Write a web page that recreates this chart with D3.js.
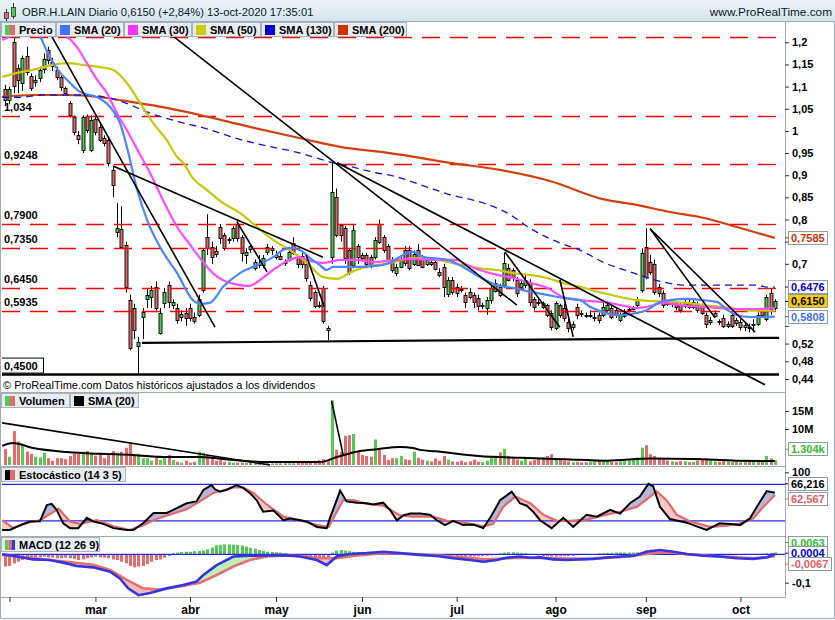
<!DOCTYPE html>
<html><head><meta charset="utf-8">
<script src="https://cdn.jsdelivr.net/npm/d3@7"></script>
<style>
html,body{margin:0;padding:0;background:#fff;}
svg{display:block;font-family:"Liberation Sans",Arial,Helvetica,sans-serif;}
</style></head><body>
<svg id="chart" width="835" height="620"></svg>
<script>
// ---------------- DATA ----------------
const openP = [1.095,1.070,1.200,1.142,1.108,1.170,1.125,1.110,1.120,1.140,
1.183,1.155,1.138,1.122,1.097,1.063,1.032,0.990,0.957,1.034,
0.957,1.027,1.009,0.985,0.980,0.912,0.770,0.779,0.743,0.618,
0.600,0.515,0.580,0.620,0.625,0.648,0.545,0.612,0.652,0.607,
0.600,0.580,0.590,0.600,0.580,0.584,0.641,0.760,0.738,0.730,
0.783,0.765,0.752,0.758,0.790,0.760,0.720,0.740,0.690,0.700,
0.697,0.725,0.735,0.715,0.718,0.705,0.710,0.748,0.716,0.718,
0.700,0.653,0.636,0.608,0.645,0.555,0.715,0.850,0.787,0.780,
0.731,0.698,0.740,0.720,0.720,0.716,0.715,0.790,0.760,0.740,
0.709,0.680,0.693,0.731,0.731,0.700,0.731,0.716,0.700,0.705,
0.705,0.682,0.693,0.632,0.664,0.648,0.643,0.630,0.637,0.630,
0.623,0.605,0.600,0.618,0.640,0.648,0.652,0.690,0.686,0.664,
0.648,0.652,0.657,0.620,0.614,0.612,0.607,0.589,0.555,0.607,
0.600,0.569,0.557,0.603,0.590,0.585,0.584,0.580,0.584,0.584,
0.596,0.600,0.596,0.573,0.584,0.596,0.600,0.607,0.641,0.737,
0.703,0.700,0.648,0.634,0.611,0.610,0.611,0.607,0.605,0.611,
0.603,0.607,0.603,0.584,0.569,0.584,0.570,0.578,0.560,0.584,
0.566,0.569,0.557,0.557,0.563,0.563,0.596,0.575,0.634,0.600];
const highP = [1.104,1.100,1.212,1.150,1.170,1.190,1.130,1.125,1.145,1.175,
1.190,1.165,1.145,1.125,1.100,1.067,1.035,1.000,1.035,1.037,
1.035,1.035,1.020,0.990,0.985,0.920,0.837,0.830,0.750,0.630,
0.610,0.535,0.600,0.645,0.650,0.660,0.600,0.645,0.660,0.620,
0.610,0.595,0.600,0.610,0.590,0.630,0.735,0.812,0.750,0.740,
0.790,0.770,0.760,0.785,0.800,0.765,0.735,0.745,0.710,0.720,
0.720,0.745,0.740,0.730,0.725,0.710,0.735,0.760,0.720,0.725,
0.710,0.660,0.640,0.615,0.650,0.560,0.930,0.870,0.790,0.785,
0.735,0.790,0.745,0.725,0.725,0.720,0.760,0.800,0.765,0.745,
0.715,0.700,0.715,0.740,0.740,0.730,0.745,0.720,0.715,0.712,
0.710,0.690,0.700,0.670,0.670,0.655,0.650,0.635,0.645,0.635,
0.630,0.612,0.625,0.650,0.665,0.655,0.725,0.700,0.690,0.670,
0.665,0.675,0.665,0.625,0.620,0.615,0.610,0.595,0.615,0.610,
0.610,0.575,0.570,0.610,0.595,0.590,0.595,0.590,0.590,0.615,
0.615,0.605,0.600,0.590,0.598,0.600,0.605,0.625,0.735,0.780,
0.720,0.710,0.655,0.640,0.615,0.615,0.615,0.612,0.620,0.620,
0.620,0.615,0.610,0.590,0.580,0.595,0.575,0.585,0.570,0.590,
0.578,0.575,0.568,0.565,0.575,0.590,0.600,0.630,0.645,0.620];
const lowP = [1.056,1.060,1.085,1.085,1.090,1.125,1.090,1.100,1.110,1.130,
1.150,1.135,1.115,1.090,1.080,1.030,0.990,0.970,0.950,0.995,
0.952,0.990,0.975,0.965,0.920,0.850,0.760,0.735,0.635,0.505,
0.530,0.450,0.530,0.600,0.600,0.595,0.540,0.600,0.600,0.598,
0.565,0.570,0.560,0.570,0.565,0.580,0.635,0.720,0.700,0.715,
0.745,0.730,0.745,0.750,0.750,0.705,0.700,0.725,0.685,0.690,
0.690,0.720,0.720,0.710,0.708,0.695,0.705,0.720,0.690,0.690,
0.660,0.615,0.600,0.600,0.565,0.528,0.700,0.760,0.750,0.700,
0.675,0.690,0.700,0.705,0.690,0.690,0.710,0.745,0.725,0.700,
0.680,0.672,0.690,0.695,0.685,0.695,0.695,0.690,0.695,0.695,
0.685,0.670,0.625,0.625,0.630,0.625,0.635,0.600,0.620,0.600,
0.595,0.598,0.585,0.610,0.635,0.625,0.645,0.660,0.660,0.625,
0.640,0.645,0.605,0.595,0.605,0.598,0.580,0.550,0.550,0.578,
0.570,0.545,0.550,0.575,0.580,0.578,0.578,0.570,0.565,0.580,
0.590,0.575,0.578,0.568,0.578,0.590,0.595,0.600,0.635,0.665,
0.675,0.630,0.625,0.600,0.605,0.602,0.595,0.590,0.600,0.598,
0.598,0.590,0.585,0.555,0.562,0.580,0.562,0.555,0.555,0.555,
0.560,0.550,0.548,0.545,0.545,0.560,0.580,0.570,0.585,0.595];
const closeP = [1.070,1.095,1.100,1.115,1.164,1.135,1.098,1.115,1.138,1.163,
1.160,1.145,1.122,1.100,1.086,1.036,0.998,0.980,1.032,1.002,
1.025,0.998,0.980,0.974,0.928,0.878,0.780,0.738,0.648,0.510,
0.551,0.524,0.592,0.630,0.640,0.600,0.590,0.636,0.614,0.614,
0.573,0.587,0.578,0.578,0.570,0.620,0.731,0.735,0.716,0.724,
0.758,0.736,0.755,0.780,0.758,0.725,0.727,0.733,0.704,0.698,
0.712,0.737,0.730,0.720,0.712,0.703,0.727,0.725,0.700,0.700,
0.668,0.623,0.605,0.606,0.570,0.550,0.862,0.765,0.765,0.713,
0.682,0.776,0.716,0.713,0.700,0.698,0.754,0.750,0.731,0.709,
0.686,0.693,0.709,0.702,0.690,0.723,0.698,0.693,0.709,0.700,
0.690,0.675,0.648,0.664,0.637,0.634,0.641,0.614,0.625,0.614,
0.605,0.608,0.618,0.645,0.657,0.630,0.702,0.664,0.670,0.634,
0.657,0.664,0.614,0.603,0.611,0.603,0.584,0.557,0.611,0.584,
0.578,0.555,0.564,0.584,0.588,0.584,0.585,0.580,0.573,0.603,
0.607,0.580,0.584,0.584,0.590,0.597,0.600,0.620,0.725,0.670,
0.680,0.637,0.634,0.607,0.610,0.611,0.603,0.596,0.614,0.603,
0.614,0.596,0.589,0.563,0.573,0.590,0.569,0.560,0.564,0.560,
0.573,0.557,0.562,0.556,0.564,0.584,0.584,0.625,0.598,0.615];
// volume in millions
const volume = [4.4,2.3,9.4,6.5,5.6,3.7,3.1,2.3,2.1,3.4,
1.9,1.2,1.9,1.9,1.6,2.5,3.1,3.1,3.7,3.9,
3.1,2.6,3.2,1.9,2.8,3.9,3.4,3.7,4.8,6.0,
2.5,3.1,1.9,1.9,1.2,1.9,1.4,1.9,2.8,1.4,
0.9,0.65,1.2,0.65,0.9,3.7,3.4,2.8,1.9,1.2,
1.4,0.9,0.9,0.65,0.65,0.65,0.65,0.65,0.65,0.65,
0.45,0.65,0.45,0.45,0.45,0.45,0.45,0.45,0.65,0.65,
0.9,0.9,0.65,1.4,1.6,1.4,17.9,4.2,3.7,8.1,
8.3,8.6,3.7,2.8,2.5,2.3,7.1,4.2,2.8,1.4,
1.9,1.9,2.5,1.6,1.4,3.7,2.0,1.5,1.2,1.0,
1.8,1.2,2.5,1.5,1.0,0.9,1.2,0.8,1.0,1.5,
0.9,0.8,1.2,2.0,2.2,3.5,4.5,2.5,1.8,1.5,
1.2,2.0,1.0,1.4,1.8,2.2,2.5,3.0,1.8,1.5,
1.2,1.0,0.8,0.9,0.7,0.8,0.9,1.0,1.1,1.4,
1.2,0.9,0.8,1.0,1.1,1.3,1.5,2.0,4.8,5.5,
3.0,2.5,2.0,1.5,1.2,1.0,0.9,1.1,1.0,0.8,
0.9,1.2,1.5,1.8,1.2,1.0,0.9,1.1,1.0,0.8,
0.9,0.7,0.9,1.2,1.0,1.4,1.1,2.5,1.8,1.304];
const volSmaIdx = [-0.7,1.8,6.5,14.4,22,29.7,37.6,45.3,53,60.9,68.6,73.2,77.2,82.5,86.5,91.8,94.8,96.5,100,110,120,130,140,150,160,170,179];
const volSmaVal = [5.3,6.1,4.7,3.6,3.1,2.8,2.2,2.2,1.4,0.8,0.8,0.8,2.2,3.9,4.4,5.0,4.7,4.2,3.8,2.5,2.0,1.6,1.2,1.8,1.7,1.2,1.1];

// moving averages (day index, value)
const sma20Idx = [-0.7,7.4,10.4,12.3,14.4,17.4,21.4,24.4,26.7,28.3,30.7,33,36,40,43.7,45.3,47.6,50.7,54.6,58.6,62.3,64.6,66.2,68.6,70.9,73.2,74.8,76.3,79.5,85.6,89.5,91.8,94.8,97.2,102.8,106.5,110.4,114.4,118.1,122.1,126,129.7,133.7,136,139,143,146.9,149.3,152.3,154.6,158.6,162.3,165.5,167.9,170.2,173.2,179];
const sma20Val = [1.30,1.228,1.167,1.137,1.115,1.088,1.076,1.054,1.018,0.964,0.867,0.799,0.738,0.679,0.618,0.610,0.612,0.648,0.679,0.697,0.715,0.731,0.736,0.731,0.713,0.697,0.686,0.693,0.693,0.695,0.702,0.716,0.727,0.716,0.709,0.693,0.670,0.652,0.646,0.637,0.630,0.623,0.618,0.603,0.591,0.584,0.589,0.596,0.614,0.618,0.621,0.618,0.614,0.596,0.584,0.580,0.5808];
const sma30Idx = [-0.7,3.5,8.8,14.4,16.7,19,21.4,23.7,26,28.3,31.4,33.7,36.7,40,43,45.3,48.3,50.7,54.6,56.9,58.6,62.3,66.2,68.6,70.2,73.9,77.9,81.8,85.5,91.1,94.8,98.8,105.1,106.5,110.4,114.4,118.1,122.1,126,129.7,133.7,139,143,146.9,149.3,153,158.6,162.3,166.2,170.2,174.8,179];
const sma30Val = [1.205,1.221,1.228,1.212,1.189,1.153,1.115,1.085,1.040,1.002,0.946,0.905,0.844,0.783,0.743,0.713,0.679,0.663,0.652,0.650,0.659,0.686,0.709,0.715,0.709,0.702,0.709,0.709,0.704,0.709,0.711,0.709,0.709,0.702,0.686,0.675,0.668,0.657,0.646,0.625,0.618,0.614,0.607,0.600,0.603,0.612,0.605,0.603,0.600,0.598,0.598,0.600];
const sma50Idx = [-0.7,2.8,6.5,11.1,14.4,18.1,22.1,25.1,28.3,31.4,34.4,37.6,40,41.4,43.7,46.9,50.7,54.6,58.6,62.3,66.2,70.2,73.9,77.2,80.2,83.2,89.5,94.8,98.8,102.8,106.5,110.4,114.4,118.1,122.1,126,129.7,133.7,139,143,146.9,150.7,154.6,158.6,162.3,166.2,170.2,173.9,179];
const sma50Val = [1.122,1.131,1.138,1.149,1.153,1.149,1.144,1.138,1.108,1.063,1.018,0.979,0.941,0.928,0.893,0.867,0.837,0.815,0.783,0.754,0.731,0.702,0.670,0.666,0.680,0.691,0.702,0.713,0.713,0.704,0.697,0.690,0.686,0.679,0.675,0.668,0.657,0.648,0.634,0.625,0.618,0.616,0.614,0.612,0.607,0.603,0.598,0.594,0.594];
const sma130Idx = [-0.7,3.5,8.8,14.4,18.1,26,33.7,41.4,45.3,55.3,60,68.6,76.3,81.8,86.5,89.5,98.8,104.6,108.8,116.7,122.8,129,133.7,139,145.3,153,157.6,166.2,174.8,177.2,179];
const sma130Val = [1.076,1.076,1.081,1.081,1.081,1.070,1.040,1.018,1.009,0.979,0.968,0.950,0.928,0.916,0.905,0.900,0.871,0.853,0.844,0.815,0.776,0.747,0.731,0.704,0.682,0.659,0.652,0.652,0.652,0.6476,0.6476];
const sma200Idx = [-0.7,6.5,14.4,22.1,29.7,37.6,45.3,56.9,70.2,77.9,89.5,103.5,115.1,126.7,139,146.9,154.6,162.3,170.2,179];
const sma200Val = [1.077,1.081,1.081,1.076,1.065,1.052,1.036,1.009,0.980,0.964,0.950,0.928,0.912,0.887,0.846,0.833,0.817,0.804,0.783,0.7585];

// stochastic %K and %D (day index, value)
const stochKIdx = [-0.7,1.1,3.5,5.8,8.1,9.7,10.8,12,13.5,15.1,17,19,20.5,22.8,25.2,28.3,29.8,32.1,34.5,37.6,39.1,42.2,44.5,46.1,48,48.8,50,51.5,53.8,55.4,56.9,58.5,60,62.4,64.7,66.2,68.6,70.1,72.5,74.8,75.5,77.1,77.9,79.4,81.8,84.1,85.6,87.9,89.5,91.1,92.6,94.2,96.5,98.8,100.4,102.3,104.2,106.5,108.9,111.2,112.8,115.1,117.8,119.7,121.3,122.8,124.4,127.1,129.8,132.1,135.2,137.6,140.7,143,145.3,147.6,149.6,150.7,152.3,154.6,158.5,160.8,163.1,166.2,168.6,170.9,173.2,174.8,177.1,179];
const stochKVal = [5,5,13,19,19.5,46,48,38,16,8,8,25,19,15,8,5,5,16,33,33,38,49,52,71,79,72,68,71,79,74,66,54,35,37,21,24,21,19,10,8,24,54,70,52,50,49,47,50,38,21,29,32,32,30,21,13,20,13,14,8,25,54,68,49,45,35,21,8,25,10,30,27,38,32,49,60,81,77,43,23,17,11,5,16,15,13,24,43,69,66.216];
const stochDIdx = [-0.7,1.9,5.8,8.1,12.4,15.1,17.4,21.3,25.2,29,32.1,35.2,39.1,42.2,45.3,48.4,53.1,55.4,57.7,60.8,64.7,68.6,72.5,75.2,78.6,81,84.1,88,91.8,94.9,99.6,102.7,106.5,111.2,113.5,115.8,118.6,122.1,125.2,128.3,131.4,135.2,139.1,143,146.9,150,151.5,153.8,156.2,159.3,164,167.8,170.9,174,176.3,179];
const stochDVal = [21,8,18,21,40,19,15,21,11,5,13,23,32,39,52,66,75,75,66,47,27,21,13,10,54,54,48,45,29,27,27,20,17,11,15,43,60,49,30,20,20,22,29,35,43,60,69,54,30,19,10,12,16,24,43,62.567];

// MACD (12 26 9)
const macdIdx = [-0.7,2.7,6.5,10.4,14.3,16.6,20.5,24.4,26.7,28.6,31,33.7,37.6,41.4,44.5,46.1,49.2,53.1,56.9,64.7,68.6,72.5,74.8,77.1,80.2,84.1,87.9,91.8,96.5,100.4,104.2,108.1,111.2,114.3,116.6,119.7,122.1,124.4,127.5,130.6,133.7,136.8,139.9,143,146.1,149.2,152.3,155.4,158.5,162.4,166.2,170.1,174,177.1,179];
const macdVal = [0,-0.008,-0.018,-0.02,-0.032,-0.041,-0.046,-0.061,-0.085,-0.12,-0.144,-0.136,-0.12,-0.108,-0.096,-0.073,-0.038,-0.008,-0.005,-0.003,-0.008,-0.02,-0.038,-0.008,0.001,0.004,0.009,0.004,-0.002,-0.006,-0.014,-0.02,-0.026,-0.02,-0.012,-0.008,-0.012,-0.011,-0.018,-0.02,-0.018,-0.016,-0.011,-0.008,-0.006,0.009,0.015,0.009,0.001,-0.005,-0.008,-0.014,-0.016,-0.011,0.0004];
const signalIdx = [-0.7,6.5,14.3,20.5,24.4,28.3,32.1,36,40.7,45.3,49.2,53.1,56.9,60.8,64.7,68.6,73.2,77.1,80.9,87.9,96.5,104.2,112,119.7,127.5,135.2,143,149.2,152.3,155.4,158.5,166.2,174,179];
const signalVal = [-0.002,-0.014,-0.026,-0.037,-0.055,-0.09,-0.12,-0.124,-0.113,-0.1,-0.073,-0.043,-0.02,-0.008,-0.004,-0.006,-0.014,-0.014,-0.006,0.004,0,-0.008,-0.018,-0.012,-0.014,-0.016,-0.01,0.001,0.006,0.006,0.001,-0.008,-0.014,-0.0067];
const macdHist = [-0.043,-0.041,-0.032,-0.026,-0.020,-0.018,-0.014,-0.012,-0.011,-0.008,
-0.011,-0.012,-0.014,-0.014,-0.012,-0.014,-0.016,-0.020,-0.018,-0.014,
-0.011,-0.008,-0.011,-0.012,-0.014,-0.018,-0.020,-0.026,-0.032,-0.041,
-0.046,-0.043,-0.041,-0.034,-0.026,-0.020,-0.018,-0.012,-0.006,0.004,
0.006,0.008,0.009,0.009,0.011,0.012,0.013,0.018,0.024,0.032,
0.033,0.035,0.035,0.034,0.033,0.031,0.027,0.023,0.020,0.015,
0.012,0.009,0.008,0.007,0.006,0.004,0.001,-0.001,-0.002,-0.006,
-0.008,-0.011,-0.012,-0.014,-0.016,-0.020,0.006,0.013,0.015,0.013,
0.011,0.009,0.008,0.006,0.005,0.004,0.004,0.005,0.006,0.005,
0.004,0.002,0.001,0,-0.001,-0.002,-0.002,-0.001,-0.002,-0.003,
-0.002,-0.003,-0.003,-0.004,-0.005,-0.006,-0.007,-0.008,-0.008,-0.007,
-0.007,-0.006,-0.005,-0.004,-0.002,0.003,0.006,0.007,0.007,0.006,
0.005,0.004,0.002,-0.002,-0.004,-0.006,-0.007,-0.008,-0.008,-0.007,
-0.006,-0.006,-0.005,-0.003,-0.002,-0.001,0,0.001,0.003,0.004,
0.005,0.005,0.006,0.006,0.006,0.006,0.006,0.007,0.008,0.014,
0.016,0.015,0.012,0.008,0.004,0.001,-0.001,-0.003,-0.004,-0.005,
-0.005,-0.006,-0.006,-0.006,-0.005,-0.005,-0.005,-0.004,-0.004,-0.004,
-0.004,-0.003,-0.003,-0.002,-0.001,0,0.002,0.004,0.005,0.0063];

// horizontal levels and hand-drawn trend lines (day index / price)
const levelVals = [1.2117,1.034,0.9248,0.79,0.735,0.645,0.5935];
const levelLabels = ["","1,034","0,9248","0,7900","0,7350","0,6450","0,5935"];
const supportVal = 0.45, supportLabel = "0,4500";
const trendLines = [[9.6,1.235,48.8,0.557],[36,1.237,119,0.607],[77.2,0.928,176.7,0.427],[25.1,0.921,73.9,0.715],[53.9,0.795,60.9,0.682],[70,0.72,74.2,0.603],[116.2,0.727,129,0.557],[129,0.664,132.1,0.535],[31.8,0.5215,180,0.533],[150,0.779,165.1,0.578],[150,0.779,174.4,0.546]];
const volTrendLines = [[-0.7,11.7,61.6,0],[75.9,17.9,78.6,2.8]];

// axes
const priceTicks = [1.2,1.15,1.1,1.05,1,0.95,0.9,0.85,0.8,0.75,0.7,0.56,0.52,0.48,0.44];
const priceTickLabels = ["1,2","1,15","1,1","1,05","1","0,95","0,9","0,85","0,8","","0,7","","0,52","0,48","0,44"];
const volTicks = [15,10], volTickLabels = ["15M","10M"];
const stochTicks = [100], stochTickLabels = ["100"];
const macdTicks = [-0.1], macdTickLabels = ["-0,1"];
const monthIdx = [1,21,43,63,83,105,128,149,171];
const monthLabels = ["","mar","abr","may","jun","jul","ago","sep","oct"];

// ---------------- DRAWING ----------------
const svg = d3.select("#chart");
const N = openP.length;
const FONT = '"Liberation Sans",Arial,Helvetica,sans-serif';
const x = d3.scaleLinear().domain([-0.5, N - 0.5]).range([3, 3 + N * 4.3]);
const yP = d3.scaleLinear().domain([0.44, 1.2]).range([379, 42.3]);
const yV = d3.scaleLinear().domain([0, 20]).range([465, 393]);
const yS = d3.scaleLinear().domain([0, 100]).range([533, 472.3]);
const yM = d3.scaleLinear().domain([-0.1, 0]).range([582.7, 554.3]);
const AX = 785;
const GREEN = "#55c855", RED = "#e46b6b", GRID = "#9fabb5";
const px = i => Math.round(x(i)) + 0.5;

const defs = svg.append("defs");
function clip(id, x0, y0, w, h) {
  defs.append("clipPath").attr("id", id).append("rect").attr("x", x0).attr("y", y0).attr("width", w).attr("height", h);
}
clip("cP", 2, 22, AX - 2, 370);
clip("cV", 2, 393, AX - 2, 73);
clip("cS", 2, 467, AX - 2, 69);
clip("cM", 2, 537, AX - 2, 60);

// title bar
const grad = defs.append("linearGradient").attr("id", "tg").attr("x1", 0).attr("y1", 0).attr("x2", 0).attr("y2", 1);
grad.append("stop").attr("offset", "0%").attr("stop-color", "#edf3f7");
grad.append("stop").attr("offset", "100%").attr("stop-color", "#d3e2ec");
svg.append("rect").attr("x", 0).attr("y", 0).attr("width", 835).attr("height", 22).attr("fill", "url(#tg)");
svg.append("line").attr("x1", 0).attr("x2", 835).attr("y1", 21.5).attr("y2", 21.5).attr("stroke", GRID);
// icon
svg.append("line").attr("x1", 6.5).attr("x2", 6.5).attr("y1", 9).attr("y2", 21).attr("stroke", "#333");
svg.append("rect").attr("x", 4.5).attr("y", 12.5).attr("width", 4).attr("height", 6).attr("fill", RED).attr("stroke", "#333").attr("stroke-width", 0.8);
svg.append("line").attr("x1", 13.5).attr("x2", 13.5).attr("y1", 3).attr("y2", 19).attr("stroke", "#333");
svg.append("rect").attr("x", 11.5).attr("y", 7.5).attr("width", 4).attr("height", 9).attr("fill", GREEN).attr("stroke", "#333").attr("stroke-width", 0.8);
svg.append("text").attr("x", 22).attr("y", 16).attr("font-size", 11.2).attr("fill", "#0b1a28")
  .text("OBR.H.LAIN Diario 0,6150 (+2,84%) 13-oct-2020 17:35:01");
svg.append("text").attr("x", 832).attr("y", 16).attr("text-anchor", "end").attr("font-size", 11.8).attr("fill", "#0b1a28")
  .text("www.ProRealTime.com");

// ---------- price panel ----------
const gP = svg.append("g").attr("clip-path", "url(#cP)");
// level labels (under the candles)
levelVals.forEach((v, k) => {
  if (levelLabels[k]) gP.append("text").attr("x", 4).attr("y", yP(v) - 5).attr("font-size", 11).attr("font-weight", "bold").text(levelLabels[k]);
});
// candles
gP.append("g").selectAll("line").data(d3.range(N)).join("line")
  .attr("x1", px).attr("x2", px).attr("y1", i => yP(highP[i])).attr("y2", i => yP(lowP[i]))
  .attr("stroke", "#000").attr("stroke-width", 1);
gP.append("g").selectAll("rect").data(d3.range(N)).join("rect")
  .attr("x", i => Math.round(x(i)) - 1)
  .attr("y", i => Math.round(yP(Math.max(openP[i], closeP[i]))) + 0.5)
  .attr("width", 3)
  .attr("height", i => Math.max(1, Math.round(Math.abs(yP(openP[i]) - yP(closeP[i])))))
  .attr("fill", i => closeP[i] >= openP[i] ? GREEN : RED)
  .attr("stroke", "#000").attr("stroke-width", 0.9);
// red dashed levels
gP.selectAll(".lvl").data(levelVals).join("line").attr("class", "lvl")
  .attr("x1", 2).attr("x2", 779).attr("y1", d => Math.round(yP(d)) + 0.5).attr("y2", d => Math.round(yP(d)) + 0.5)
  .attr("stroke", "#f00").attr("stroke-width", 1.3).attr("stroke-dasharray", "18,10");
// SMAs
const smaLine = d3.line().x(d => x(d[0])).y(d => yP(d[1])).curve(d3.curveMonotoneX);
const smas = [
  [sma200Idx, sma200Val, "#d2400e", 2.2, null],
  [sma130Idx, sma130Val, "#1414cc", 1.3, "7,5"],
  [sma50Idx, sma50Val, "#c8c80a", 2.2, null],
  [sma30Idx, sma30Val, "#ff4cff", 2.2, null],
  [sma20Idx, sma20Val, "#4a86ff", 2.2, null]
];
smas.forEach(s => {
  gP.append("path").attr("d", smaLine(d3.zip(s[0], s[1]))).attr("fill", "none")
    .attr("stroke", s[2]).attr("stroke-width", s[3]).attr("stroke-dasharray", s[4]);
});
// trend lines
gP.selectAll(".tl").data(trendLines).join("line").attr("class", "tl")
  .attr("x1", d => x(d[0])).attr("y1", d => yP(d[1])).attr("x2", d => x(d[2])).attr("y2", d => yP(d[3]))
  .attr("stroke", "#000").attr("stroke-width", (d, k) => k === 8 ? 2.2 : 1.6);
gP.append("line").attr("x1", 2).attr("x2", 779).attr("y1", yP(supportVal)).attr("y2", yP(supportVal))
  .attr("stroke", "#000").attr("stroke-width", 2.4);
gP.append("rect").attr("x", 1.5).attr("y", yP(supportVal) - 16.5).attr("width", 42).attr("height", 15)
  .attr("fill", "#fff").attr("stroke", "#000");
gP.append("text").attr("x", 4).attr("y", yP(supportVal) - 4.5).attr("font-size", 11).attr("font-weight", "bold").text(supportLabel);

svg.append("text").attr("x", 3).attr("y", 389).attr("font-size", 11).text("© ProRealTime.com  Datos históricos ajustados a los dividendos");

// legend boxes
function legendBox(x0, y0, w, colors, label) {
  svg.append("rect").attr("x", x0 + 0.5).attr("y", y0 + 0.5).attr("width", w).attr("height", 14)
    .attr("fill", "#e8ecef").attr("stroke", "#a9b3bb");
  const iw = 10 / colors.length;
  colors.forEach((c, k) => svg.append("rect").attr("x", x0 + 4 + k * iw).attr("y", y0 + 3).attr("width", iw).attr("height", 10).attr("fill", c));
  svg.append("text").attr("x", x0 + 18).attr("y", y0 + 12).attr("font-size", 11).attr("font-weight", "bold").text(label);
}
legendBox(1, 22, 54, [GREEN, RED], "Precio");
legendBox(56, 22, 67, ["#3f72ff"], "SMA (20)");
legendBox(124, 22, 67, ["#ff33ff"], "SMA (30)");
legendBox(192, 22, 68, ["#cccc00"], "SMA (50)");
legendBox(261, 22, 72, ["#0000cc"], "SMA (130)");
legendBox(334, 22, 72, ["#cc3300"], "SMA (200)");

// ---------- volume panel ----------
const gV = svg.append("g").attr("clip-path", "url(#cV)");
gV.selectAll("rect").data(d3.range(N)).join("rect")
  .attr("x", i => Math.round(x(i)) - 1).attr("width", 3)
  .attr("y", i => yV(volume[i])).attr("height", i => yV(0) - yV(volume[i]))
  .attr("fill", i => closeP[i] >= openP[i] ? GREEN : RED);
gV.append("path").attr("d", d3.line().x(d => x(d[0])).y(d => yV(d[1])).curve(d3.curveMonotoneX)(d3.zip(volSmaIdx, volSmaVal)))
  .attr("fill", "none").attr("stroke", "#000").attr("stroke-width", 2);
gV.selectAll(".vt").data(volTrendLines).join("line").attr("class", "vt")
  .attr("x1", d => x(d[0])).attr("y1", d => yV(d[1])).attr("x2", d => x(d[2])).attr("y2", d => yV(d[3]))
  .attr("stroke", "#000").attr("stroke-width", 1.6);
legendBox(1, 393, 68, [GREEN, RED], "Volumen");
legendBox(70, 393, 68, ["#000"], "SMA (20)");

// fill between two piecewise-linear series
function between(g, grid, fA, fB, ys, colUp, colDown, id, top, bot) {
  const band = d3.area().x(d => x(d)).y0(d => ys(fB(d))).y1(d => ys(fA(d)));
  const above = d3.area().x(d => x(d)).y0(top).y1(d => ys(fB(d)));
  const below = d3.area().x(d => x(d)).y0(d => ys(fB(d))).y1(bot);
  defs.append("clipPath").attr("id", id + "u").append("path").attr("d", above(grid));
  defs.append("clipPath").attr("id", id + "d").append("path").attr("d", below(grid));
  g.append("path").attr("d", band(grid)).attr("fill", colUp).attr("clip-path", `url(#${id}u)`);
  g.append("path").attr("d", band(grid)).attr("fill", colDown).attr("clip-path", `url(#${id}d)`);
}

// ---------- stochastic panel ----------
const gS = svg.append("g").attr("clip-path", "url(#cS)");
const kS = d3.scaleLinear().domain(stochKIdx).range(stochKVal).clamp(true);
const dS = d3.scaleLinear().domain(stochDIdx).range(stochDVal).clamp(true);
const gridS = d3.range(-0.7, 179.001, 0.2);
between(gS, gridS, kS, dS, yS, "#b7b7dc", "#f6c9c9", "fs", 400, 600);
[80, 20].forEach(v => gS.append("line").attr("x1", 2).attr("x2", AX).attr("y1", yS(v)).attr("y2", yS(v)).attr("stroke", "#2828e0").attr("stroke-width", 1.2));
const linS = d3.line().x(d => x(d[0])).y(d => yS(d[1]));
gS.append("path").attr("d", linS(d3.zip(stochDIdx, stochDVal))).attr("fill", "none").attr("stroke", "#e06a6a").attr("stroke-width", 2.2);
gS.append("path").attr("d", linS(d3.zip(stochKIdx, stochKVal))).attr("fill", "none").attr("stroke", "#000").attr("stroke-width", 2);
legendBox(1, 467, 124, ["#000", RED], "Estocástico (14 3 5)");

// ---------- MACD panel ----------
const gM = svg.append("g").attr("clip-path", "url(#cM)");
gM.selectAll("rect").data(d3.range(N)).join("rect")
  .attr("x", i => Math.round(x(i)) - 1).attr("width", 3)
  .attr("y", i => Math.min(yM(0), yM(macdHist[i]))).attr("height", i => Math.abs(yM(macdHist[i]) - yM(0)))
  .attr("fill", i => macdHist[i] >= 0 ? GREEN : RED);
const mS = d3.scaleLinear().domain(macdIdx).range(macdVal).clamp(true);
const sS = d3.scaleLinear().domain(signalIdx).range(signalVal).clamp(true);
between(gM, gridS, mS, sS, yM, "#bdf0b5", "#f4b9b9", "fm", 500, 620);
gM.append("line").attr("x1", 2).attr("x2", AX).attr("y1", yM(0)).attr("y2", yM(0)).attr("stroke", "#2828e0").attr("stroke-width", 1.2);
const linM = d3.line().x(d => x(d[0])).y(d => yM(d[1]));
gM.append("path").attr("d", linM(d3.zip(signalIdx, signalVal))).attr("fill", "none").attr("stroke", "#e57070").attr("stroke-width", 2.6);
gM.append("path").attr("d", linM(d3.zip(macdIdx, macdVal))).attr("fill", "none").attr("stroke", "#3434e2").attr("stroke-width", 2.6);
legendBox(1, 537, 98, [GREEN, RED, "#3434e2"], "MACD (12 26 9)");

// ---------- frames ----------
[392.5, 466.5, 536.5].forEach(y => svg.append("line").attr("x1", 1).attr("x2", AX).attr("y1", y).attr("y2", y).attr("stroke", GRID));
svg.append("line").attr("x1", 1).attr("x2", AX + 0.5).attr("y1", 597.5).attr("y2", 597.5).attr("stroke", GRID);
svg.append("line").attr("x1", AX + 0.5).attr("x2", AX + 0.5).attr("y1", 22).attr("y2", 598).attr("stroke", GRID);
svg.append("rect").attr("x", 0.5).attr("y", 21.5).attr("width", 834).attr("height", 597).attr("fill", "none").attr("stroke", GRID);

// ---------- axes ----------
function styleAxis(g) {
  g.select(".domain").remove();
  g.attr("font-family", FONT).attr("font-size", 11).attr("font-weight", "bold");
  g.selectAll(".tick line").attr("stroke", "#333");
  g.selectAll(".tick text").attr("fill", "#000");
}
function rightAxis(scale, ticks, labels) {
  svg.append("g").attr("transform", `translate(${AX},0)`)
    .call(d3.axisRight(scale).tickValues(ticks).tickFormat((d, i) => labels[i]).tickSize(4).tickPadding(3))
    .call(styleAxis);
}
rightAxis(yP, priceTicks, priceTickLabels);
rightAxis(yV, volTicks, volTickLabels);
rightAxis(yS, stochTicks, stochTickLabels);
rightAxis(yM, macdTicks, macdTickLabels);
svg.append("g").attr("transform", "translate(0,597)")
  .call(d3.axisBottom(x).tickValues(monthIdx).tickFormat((d, i) => monthLabels[i]).tickSize(5).tickPadding(3))
  .call(styleAxis).attr("font-size", 12);

// value boxes on the right axis
function valueBox(cy, txt, color, bg) {
  const t = svg.append("text").attr("x", AX + 6).attr("y", cy + 4).attr("font-size", 11).attr("font-weight", "bold").attr("fill", color).text(txt);
  const w = t.node().getComputedTextLength();
  svg.insert("rect", () => t.node()).attr("x", AX + 3.5).attr("y", Math.round(cy) - 6.5).attr("width", Math.ceil(w) + 5).attr("height", 13)
    .attr("fill", bg).attr("stroke", "#8d9ba6");
  svg.insert("line", () => t.node()).attr("x1", AX).attr("x2", AX + 3).attr("y1", cy).attr("y2", cy).attr("stroke", color);
}
valueBox(yP(0.7585), "0,7585", "#cc3300", "#fff");
valueBox(yP(0.6476), "0,6476", "#0000cc", "#fff");
valueBox(yP(0.5808), "0,5808", "#3f72ff", "#fff");
valueBox(yP(0.615), "0,6150", "#000", "#ffcc00");
valueBox(yV(1.304) - 11, "1.304k", "#33bb33", "#fff");
valueBox(yS(66.216) - 9, "66,216", "#000", "#fff");
valueBox(yS(62.567) + 4, "62,567", "#e06060", "#fff");
valueBox(yM(0.0063) - 10, "0,0063", "#33bb33", "#fff");
valueBox(yM(0.0004) - 1, "0,0004", "#0000cc", "#fff");
valueBox(yM(-0.0067) + 8, "-0,0067", "#e06060", "#fff");
</script>
</body></html>
